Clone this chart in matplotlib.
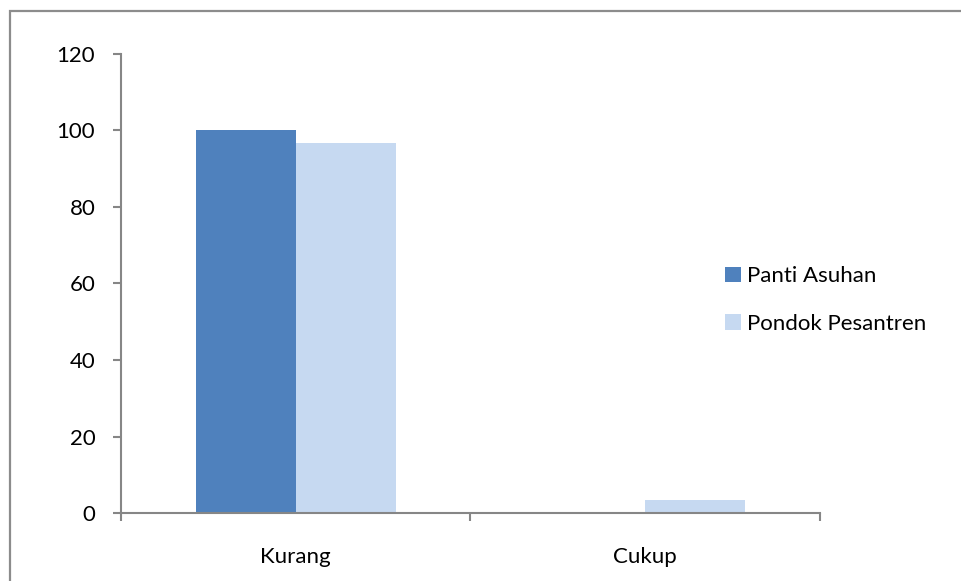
import matplotlib
matplotlib.use("Agg")
import matplotlib.pyplot as plt
import numpy as np
from matplotlib.patches import Rectangle

categories = ["Kurang", "Cukup"]
series_names = ["Panti Asuhan", "Pondok Pesantren"]
panti_asuhan = [100, 0]
pondok_pesantren = [96.6, 3.4]
y_ticks = [0, 20, 40, 60, 80, 100, 120]

colors = ["#4F81BD", "#C6D9F1"]
axis_color = "#868686"
fs = 16

plt.rcParams["font.family"] = ["Lato", "DejaVu Sans"]

fig = plt.figure(figsize=(9.62, 5.81), dpi=100)
ax = fig.add_axes([121 / 962, 1 - 513.3 / 581, (820 - 121) / 962, (513.3 - 53.5) / 581])

x = np.arange(len(categories)) + 0.5
w = 1 / 3.5
ax.bar(x - w / 2, panti_asuhan, width=w, color=colors[0], label=series_names[0])
ax.bar(x + w / 2, pondok_pesantren, width=w, color=colors[1], label=series_names[1])

ax.set_xlim(0, len(categories))
ax.set_ylim(0, 120)
ax.set_yticks(y_ticks)
ax.set_xticks([0, 1, 2])
ax.set_xticklabels([])
ax.set_xticks(x, minor=True)
ax.set_xticklabels(categories, minor=True)
ax.tick_params(axis="x", which="minor", length=0, pad=24, labelsize=fs)
ax.tick_params(axis="x", which="major", length=5.5, width=1.5, color=axis_color)
ax.tick_params(axis="y", length=5.5, width=1.5, color=axis_color, pad=13, labelsize=fs)

for side in ["top", "right"]:
    ax.spines[side].set_visible(False)
for side in ["left", "bottom"]:
    ax.spines[side].set_color(axis_color)
    ax.spines[side].set_linewidth(1.5)

leg = fig.legend(loc="upper left", bbox_to_anchor=(714 / 962, 1 - 255 / 581),
                 frameon=False, fontsize=fs, handlelength=0.7, handleheight=0.7,
                 handletextpad=0.3, labelspacing=1.25, borderpad=0)

# chart area border
fig.patches.append(Rectangle((10 / 962, -0.01), 1.0, 1 - 11 / 581 + 0.01,
                             transform=fig.transFigure, fill=False,
                             edgecolor="#8C8C8C", linewidth=1.6))

fig.savefig("out.png", dpi=100)
